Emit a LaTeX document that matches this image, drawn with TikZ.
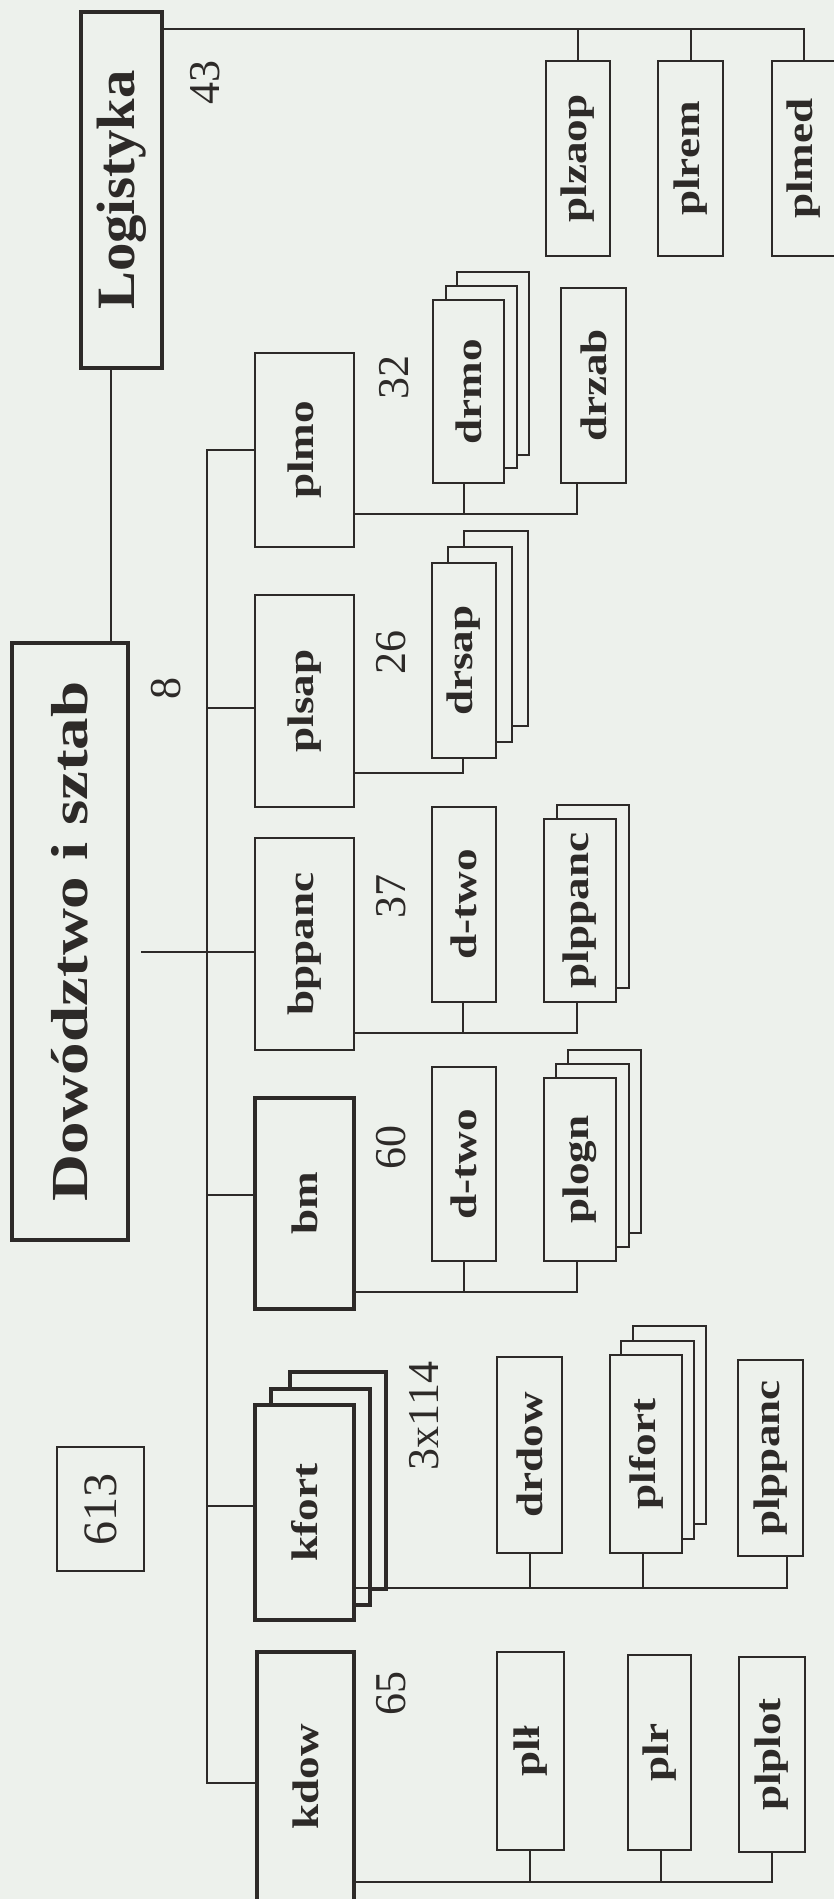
\documentclass[tikz,border=0pt]{standalone}
\usepackage{fontspec}
\usepackage{graphicx}
\setmainfont{Liberation Serif}
\newfontfamily\labfont[FakeStretch=1.22]{Liberation Serif}
\newfontfamily\bigfont[FakeStretch=1.25]{Liberation Serif}
\newfontfamily\logfont[FakeStretch=1.05]{Liberation Serif}
\definecolor{bgc}{RGB}{237,241,236}
\definecolor{ink}{RGB}{45,42,40}
\newcommand{\bx}[7]{\node[#2, minimum width={(#5)-(#3)}, minimum height={(#6)-(#4)}] (#1) at ({((#3)+(#5))/2},{((#4)+(#6))/2}) {#7};}
\newcommand{\lab}[1]{\rotatebox{90}{\labfont\bfseries\fontsize{37}{44}\selectfont #1}}
\newcommand{\rnum}[1]{\rotatebox{90}{#1}}
\begin{document}
\begin{tikzpicture}[x=1pt,y=-1pt,
  bx/.style={draw=ink, fill=bgc, line width=2.1pt, inner sep=0pt, outer sep=0pt, text=ink},
  bxm/.style={bx, line width=3.2pt},
  bxt/.style={bx, line width=4.8pt},
  ln/.style={draw=ink, line width=2pt},
  num/.style={inner sep=0pt, text=ink, font=\fontsize{44}{50}\selectfont}]
\fill[bgc] (0,0) rectangle (834,1899);
\useasboundingbox (0,0) rectangle (834,1899);

% Logistyka branch
\bx{log}{bxt}{81}{12}{162}{368}{\rotatebox{90}{\logfont\bfseries\fontsize{54}{60}\selectfont Logistyka}}
\bx{plzaop}{bx}{546}{61}{610}{256}{\lab{plzaop}}
\bx{plrem}{bx}{658}{61}{723}{256}{\lab{plrem}}
\bx{plmed}{bx}{772}{61}{836}{256}{\lab{plmed}}
\coordinate (lt) at (0,29);
\draw[ln] (log.east |- lt) -| (plmed.north);
\draw[ln] (plzaop.north) -- (plzaop.north |- lt);
\draw[ln] (plrem.north) -- (plrem.north |- lt);

% Dowodztwo
\bx{dow}{bxt}{12}{643}{128}{1240}{\rotatebox{90}{\bigfont\bfseries\fontsize{52}{60}\selectfont Dowództwo i sztab}}
\coordinate (lx) at (111,0);
\draw[ln] (lx |- log.south) -- (lx |- dow.north);

% middle column
\bx{plmo}{bx}{255}{353}{354}{547}{\lab{plmo}}
\bx{plsap}{bx}{255}{595}{354}{807}{\lab{plsap}}
\bx{bppanc}{bx}{255}{838}{354}{1050}{\lab{bppanc}}
\bx{bm}{bxm}{255}{1098}{354}{1309}{\lab{bm}}
\bx{kfortc}{bxm}{290}{1372}{386}{1589}{}
\bx{kfortb}{bxm}{271}{1389}{370}{1605}{}
\bx{kfort}{bxm}{255}{1405}{354}{1620}{\lab{kfort}}
\bx{kdow}{bxm}{257}{1652}{354}{1901}{\lab{kdow}}

% bus
\coordinate (bt) at (207,450);
\coordinate (bb) at (207,1783);
\coordinate (b2) at (207,708);
\coordinate (b4) at (207,1195);
\coordinate (b5) at (207,1506);
\coordinate (dx) at (141,952);
\draw[ln] (bt -| plmo.west) -- (bt) -- (bb) -- (bb -| kdow.west);
\draw[ln] (b2) -- (b2 -| plsap.west);
\draw[ln] (dx) -- (dx -| bppanc.west);
\draw[ln] (b4) -- (b4 -| bm.west);
\draw[ln] (b5) -- (b5 -| kfort.west);

% numbers
\node[num] (n43) at (205,82) {\rnum{43}};
\node[num] (n8) at (166,688) {\rnum{8}};
\node[num] (n32) at (394,377) {\rnum{32}};
\node[num] (n26) at (391,652) {\rnum{26}};
\node[num] (n37) at (391,896) {\rnum{37}};
\node[num] (n60) at (391,1147) {\rnum{60}};
\node[num] (n3x) at (424,1416) {\rnum{3x114}};
\node[num] (n65) at (391,1693) {\rnum{65}};
\bx{b613}{bx}{57}{1447}{144}{1571}{\rotatebox{90}{\fontsize{48}{54}\selectfont 613}}

% plmo group
\bx{drmoc}{bx}{457}{272}{529}{455}{}
\bx{drmob}{bx}{446}{286}{517}{468}{}
\bx{drmo}{bx}{433}{300}{504}{483}{\lab{drmo}}
\bx{drzab}{bx}{561}{288}{626}{483}{\lab{drzab}}
\coordinate (g1a) at (464,514);
\coordinate (g1b) at (577,514);
\draw[ln] (plmo.east |- g1b) -- (g1b) -- (g1b |- drzab.south);
\draw[ln] (g1a) -- (g1a |- drmo.south);

% plsap group
\bx{drsapc}{bx}{464}{531}{528}{726}{}
\bx{drsapb}{bx}{448}{547}{512}{742}{}
\bx{drsap}{bx}{432}{563}{496}{758}{\lab{drsap}}
\coordinate (g2) at (463,773);
\draw[ln] (plsap.east |- g2) -- (g2) -- (g2 |- drsap.south);

% bppanc group
\bx{dtwoa}{bx}{432}{807}{496}{1002}{\lab{d-two}}
\bx{plppancb}{bx}{557}{805}{629}{988}{}
\bx{plppanca}{bx}{544}{819}{616}{1002}{\lab{plppanc}}
\coordinate (g3a) at (463,1033);
\coordinate (g3b) at (577,1033);
\draw[ln] (bppanc.east |- g3b) -- (g3b) -- (g3b |- plppanca.south);
\draw[ln] (g3a) -- (g3a |- dtwoa.south);

% bm group
\bx{dtwob}{bx}{432}{1067}{496}{1261}{\lab{d-two}}
\bx{plognc}{bx}{568}{1050}{641}{1233}{}
\bx{plognb}{bx}{556}{1064}{629}{1247}{}
\bx{plogn}{bx}{544}{1078}{616}{1261}{\lab{plogn}}
\coordinate (g4a) at (464,1292);
\coordinate (g4b) at (577,1292);
\draw[ln] (bm.east |- g4b) -- (g4b) -- (g4b |- plogn.south);
\draw[ln] (g4a) -- (g4a |- dtwob.south);

% kfort group
\bx{drdow}{bx}{497}{1357}{562}{1553}{\lab{drdow}}
\bx{plfortc}{bx}{633}{1326}{706}{1524}{}
\bx{plfortb}{bx}{621}{1341}{694}{1539}{}
\bx{plfort}{bx}{610}{1355}{682}{1553}{\lab{plfort}}
\bx{plppancc}{bx}{738}{1360}{803}{1556}{\lab{plppanc}}
\coordinate (g5a) at (530,1588);
\coordinate (g5b) at (643,1588);
\coordinate (g5c) at (787,1588);
\draw[ln] (kfort.east |- g5c) -- (g5c) -- (g5c |- plppancc.south);
\draw[ln] (g5a) -- (g5a |- drdow.south);
\draw[ln] (g5b) -- (g5b |- plfort.south);

% kdow group
\bx{pll}{bx}{497}{1652}{564}{1850}{\lab{plł}}
\bx{plr}{bx}{628}{1655}{691}{1850}{\lab{plr}}
\bx{plplot}{bx}{739}{1657}{805}{1852}{\lab{plplot}}
\coordinate (g6a) at (530,1882);
\coordinate (g6b) at (661,1882);
\coordinate (g6c) at (772,1882);
\draw[ln] (kdow.east |- g6c) -- (g6c) -- (g6c |- plplot.south);
\draw[ln] (g6a) -- (g6a |- pll.south);
\draw[ln] (g6b) -- (g6b |- plr.south);
\end{tikzpicture}
\end{document}
